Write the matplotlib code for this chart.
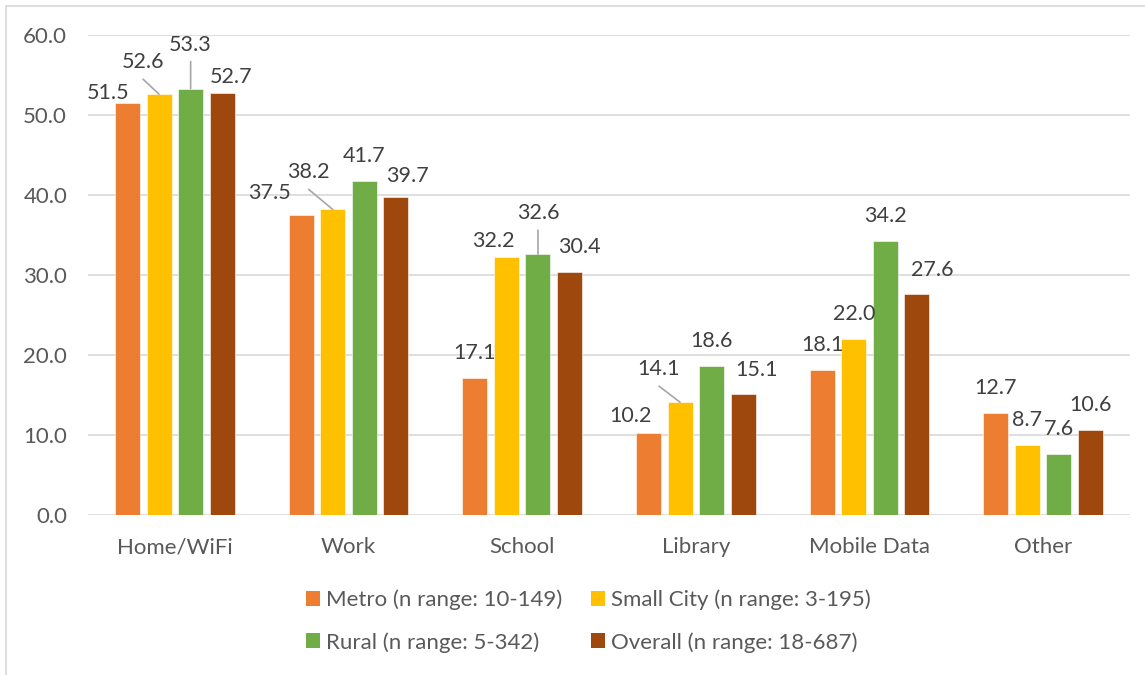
import numpy as np
import matplotlib
matplotlib.use("Agg")
import matplotlib.pyplot as plt
from matplotlib.lines import Line2D
from matplotlib.patches import Patch

plt.rcParams['font.family'] = ['Lato', 'DejaVu Sans']

# data
categories = ['Home/WiFi', 'Work', 'School', 'Library', 'Mobile Data', 'Other']
series_names = ['Metro (n range: 10-149)', 'Small City (n range: 3-195)',
                'Rural (n range: 5-342)', 'Overall (n range: 18-687)']
metro = [51.5, 37.5, 17.1, 10.2, 18.1, 12.7]
small_city = [52.6, 38.2, 32.2, 14.1, 22.0, 8.7]
rural = [53.3, 41.7, 32.6, 18.6, 34.2, 7.6]
overall = [52.7, 39.7, 30.4, 15.1, 27.6, 10.6]
yticks = [0, 10, 20, 30, 40, 50, 60]

series = [metro, small_city, rural, overall]
colors = ['#ED7D31', '#FFC000', '#70AD47', '#9E480E']

# label nudges in pixels (dx, dy up) relative to bar top, excel-style placement
nudge = {
    (0, 0): (-19, 10), (0, 1): (-16, 32), (0, 2): (0, 44), (0, 3): (9, 16),
    (1, 0): (-32, 22), (1, 1): (-24, 37), (1, 3): (12, 21),
    (2, 1): (-13, 16), (2, 2): (0, 41), (2, 3): (10, 25),
    (3, 0): (-18, 17), (3, 1): (-21, 33), (3, 3): (13, 24),
    (4, 3): (15, 24),
}
leaders = [(0, 1), (0, 2), (1, 1), (2, 2), (3, 1)]

fig = plt.figure(figsize=(11.45, 6.75), dpi=100)
ax = fig.add_axes([88/1145, 1-515/675, (1130-88)/1145, 480/675])

x = np.arange(len(categories))
width = 0.144
step = 0.182
for i, vals in enumerate(series):
    xs = x + (i - 1.5) * step
    ax.bar(xs, vals, width, color=colors[i], edgecolor='white', linewidth=0.4, zorder=3)
    for j, v in enumerate(vals):
        dx, dy = nudge.get((j, i), (0, 25))
        ax.annotate('%.1f' % v, xy=(xs[j], v), xytext=(dx, dy), textcoords='offset pixels',
                    ha='center', va='center', fontsize=15.5, color='#404040', zorder=5)
        if (j, i) in leaders:
            ax.annotate('', xy=(xs[j], v), xytext=(dx, dy - 17), textcoords='offset pixels',
                        arrowprops=dict(arrowstyle='-', color='#A6A6A6', lw=1.2,
                                        shrinkA=0, shrinkB=0), zorder=4)

ax.set_xlim(-0.5, 5.5)
ax.set_ylim(0, 60)
ax.set_yticks(yticks)
ax.set_yticklabels(['%.1f' % t for t in yticks])
ax.set_xticks(x)
ax.set_xticklabels(categories)
ax.tick_params(axis='y', length=0, pad=15, labelsize=16, labelcolor='#595959')
ax.tick_params(axis='x', length=0, pad=16, labelsize=16, labelcolor='#595959')
ax.grid(axis='y', color='#D9D9D9', linewidth=1.2, zorder=0)
ax.set_axisbelow(True)
for s in ax.spines.values():
    s.set_visible(False)

# legend, filled by columns so rows read Metro/Small City, Rural/Overall
order = [0, 2, 1, 3]
handles = [Patch(facecolor=colors[k], edgecolor='none') for k in order]
labels = [series_names[k] for k in order]
fig.legend(handles, labels, ncol=2, loc='center', bbox_to_anchor=(588/1145, 1-621/675),
           frameon=False, fontsize=16, labelcolor='#595959', handlelength=0.65,
           handleheight=0.65, handletextpad=0.25, columnspacing=1.3, labelspacing=1.0)

# chart area border (cropped on right and bottom)
fig.add_artist(Line2D([6/1145, 6/1145], [0, 1-6/675], color='#D9D9D9', lw=1.2))
fig.add_artist(Line2D([6/1145, 1], [1-6/675, 1-6/675], color='#D9D9D9', lw=1.2))

fig.savefig('out.png', dpi=100)
